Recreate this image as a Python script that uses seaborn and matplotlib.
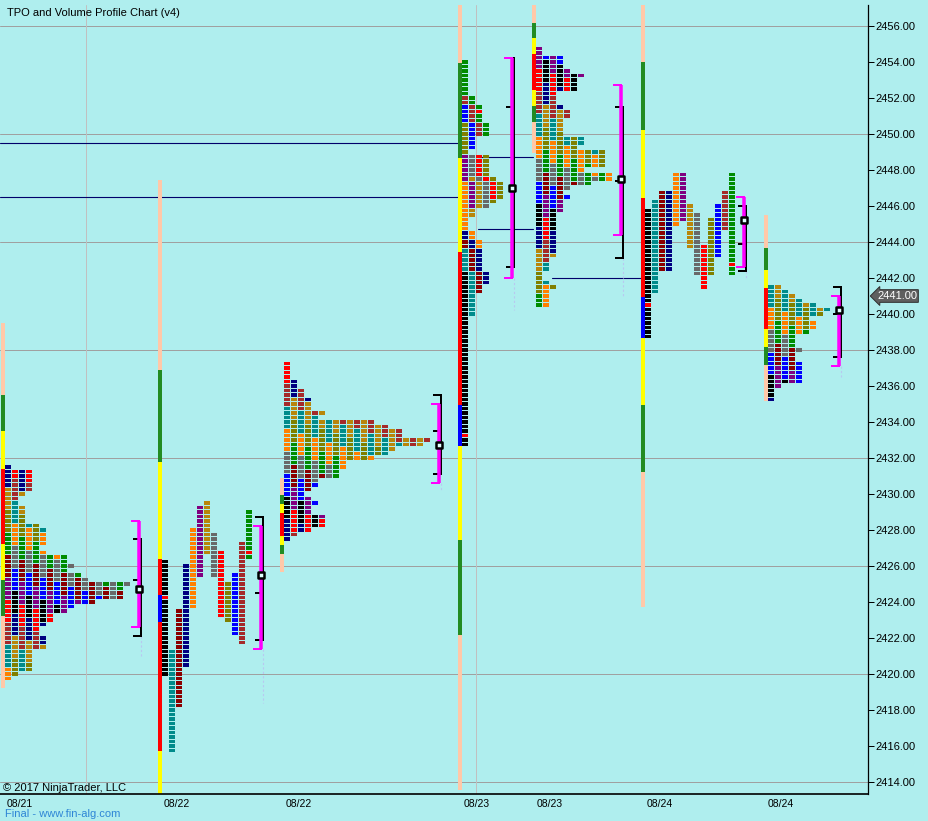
import matplotlib
matplotlib.use("Agg")
import matplotlib.pyplot as plt
import pandas as pd
import seaborn as sns

BG = "#AFEEEE"
PERIOD_COLORS = ["#000000", "#008B8B", "#8B0000", "#000080", "#FF8000", "#800080",
                 "#B8860B", "#696969", "#FF0000", "#808000", "#0000FF", "#A52A2A", "#008C00"]
BAR_COLORS = {"p": "#FFC8A8", "g": "#228B22", "y": "#FFFF00", "r": "#FF0000", "b": "#0000FF"}

# day sessions: 30 min period highs / lows
day22_high = [2426.25, 2421.25, 2423.5, 2426.0, 2428.0, 2429.25, 2429.5, 2427.75, 2426.75, 2425.0, 2425.5, 2427.25, 2429.0]
day22_low = [2420.0, 2415.75, 2418.25, 2420.5, 2423.75, 2425.5, 2426.75, 2425.5, 2423.25, 2423.0, 2422.25, 2421.75, 2426.5]
day23_high = [2442.25, 2443.5, 2444.0, 2444.5, 2447.25, 2448.75, 2447.5, 2448.75, 2448.75, 2450.5, 2451.5, 2452.0, 2454.0]
day23_low = [2432.75, 2440.0, 2441.25, 2441.75, 2443.75, 2446.0, 2445.5, 2446.0, 2446.5, 2446.25, 2449.25, 2450.0, 2450.0]
day24_high = [2445.75, 2446.25, 2446.75, 2446.75, 2447.75, 2447.75, 2446.0, 2445.5, 2443.75, 2445.25, 2446.0, 2446.75, 2447.75]
day24_low = [2438.75, 2441.25, 2442.5, 2442.5, 2445.0, 2445.25, 2443.75, 2442.25, 2441.5, 2442.25, 2443.25, 2444.75, 2442.25]
day_open = [2424.25, 2433.25, 2440.5]
day_close = [2426.75, 2451.25, 2442.75]

# overnight sessions: TPO count per price row, from the top price down
eth21_top = 2431.5
eth21_rows = [1, 4, 4, 4, 4, 4, 3, 2, 2, 3, 3, 3, 3, 5, 6, 6, 6, 6, 5, 6, 9, 9, 10, 9, 11, 12,
              18, 17, 17, 17, 13, 10, 9, 7, 7, 6, 5, 5, 6, 6, 6, 4, 4, 4, 4, 4, 2, 1]
eth22_top = 2437.25
eth22_rows = [1, 1, 1, 1, 2, 2, 3, 3, 4, 4, 4, 6, 5, 13, 15, 17, 17, 21, 20, 16, 15, 13, 9, 9,
              8, 8, 5, 5, 4, 3, 4, 5, 4, 4, 6, 6, 6, 4, 2, 1]
eth23_top = 2454.75
eth23_rows = [1, 1, 4, 4, 4, 5, 7, 6, 6, 6, 3, 3, 3, 4, 5, 5, 4, 4, 4, 4, 7, 7, 6, 10, 10, 10,
              10, 7, 11, 11, 8, 5, 4, 5, 4, 4, 4, 3, 3, 3, 3, 3, 3, 3, 3, 3, 3, 2, 2, 2, 1, 1,
              2, 3, 2, 2, 2, 2]
eth24_top = 2441.5
eth24_rows = [2, 3, 4, 5, 7, 9, 8, 6, 7, 7, 6, 4, 4, 4, 5, 4, 4, 5, 5, 5, 5, 5, 2, 1, 1, 1]

# per session (left to right)
session_x = [5, 162, 284, 462, 536, 645, 768]
bar_edges = [
    [2439.5, 2435.5, 2433.5, 2431.4, 2427.2, 2425.2, 2423.2, 2419.2],
    [2447.44, 2436.9, 2431.8, 2426.4, 2424.4, 2422.9, 2415.7, 2413.3],
    [2430.9, 2429.94, 2429.44, 2428.94, 2427.67, 2427.17, 2426.67, 2425.67],
    [2457.17, 2453.94, 2448.67, 2443.44, 2434.94, 2432.67, 2427.44, 2422.17, 2413.56],
    [2457.17, 2456.17, 2455.33, 2454.44, 2452.44, 2451.56, 2450.67, 2448.94],
    [2457.17, 2454.0, 2450.22, 2446.44, 2440.94, 2438.67, 2434.94, 2431.22, 2423.72],
    [2445.5, 2443.67, 2442.44, 2441.44, 2439.17, 2438.17, 2437.17, 2435.17],
]
bar_codes = ["pgyrygp", "pgyrbry", "pgyrygp", "pgyrbygp", "pgyrygp", "pgyrbygp", "pgyrygp"]
bracket_x = [137, 259, 437, 510, 619, 742, 837]
va_high = [2428.5, 2428.25, 2435.0, 2454.25, 2452.75, 2446.5, 2441.0]
va_low = [2422.6, 2421.4, 2430.6, 2442.0, 2444.4, 2442.6, 2437.1]
rng_high = [2427.5, 2428.75, 2435.5, 2454.25, 2451.5, 2446.0, 2441.5]
rng_mid = [2425.2, 2424.5, 2433.5, 2451.5, 2447.4, 2443.9, 2440.0]
rng_low = [2422.1, 2421.9, 2431.1, 2442.6, 2443.1, 2442.4, 2437.6]
tail_low = [2420.9, 2418.4, 2430.2, 2440.2, 2441.0, 2442.0, 2436.5]
poc = [2424.75, 2425.5, 2432.75, 2447.0, 2447.5, 2445.25, 2440.25]

level_price = [2449.5, 2446.5, 2448.75, 2444.75, 2442.0]
level_x0 = [0, 0, 478, 478, 552]
level_x1 = [458, 458, 533, 533, 642]

date_x = [20, 177, 299, 477, 550, 660, 781]
date_labels = ["08/21", "08/22", "08/22", "08/23", "08/23", "08/24", "08/24"]
grid_prices = [2414, 2420, 2426, 2432, 2438, 2444, 2450, 2456]
grid_x = [86, 476]
last_price = 2441.0


def blocks_from_periods(x0, highs, lows, split, open_px, close_px):
    out = []
    n = len(highs)
    lo_t = round(min(lows) * 4)
    hi_t = round(max(highs) * 4)
    for t in range(lo_t, hi_t + 1):
        covering = [p for p in range(n) if round(lows[p] * 4) <= t <= round(highs[p] * 4)]
        for rank, p in enumerate(covering):
            col = p if split else rank
            color = PERIOD_COLORS[p]
            if (p == 0 and t == round(open_px * 4)) or (p == n - 1 and t == round(close_px * 4)):
                color = "#FF0000"
            out.append((x0 + 3 + 7 * col, t / 4, color))
    return out


def blocks_from_rows(x0, top, rows, offset):
    out = []
    for r, w in enumerate(rows):
        for c in range(w):
            k = (offset + 5 * c + 3 * ((r + 2 * c) // 5)) % 13
            out.append((x0 + 3 + 7 * c, top - 0.25 * r, PERIOD_COLORS[k]))
    return out


def main() -> None:
    sns.set_theme(style="white")
    plt.rcParams["font.family"] = ["Liberation Sans", "DejaVu Sans"]

    fig = plt.figure(figsize=(9.29, 8.21), dpi=100, facecolor=BG)
    ax = fig.add_axes([0, 1 - 794 / 821, 868 / 929, 789 / 821])
    ax.set_facecolor(BG)
    ax.set_xlim(0, 868)
    ax.set_ylim(2414 - 12 / 18, 2456 + 21 / 18)

    for p in grid_prices:
        ax.axhline(p, color="#A0A0A0", lw=0.72, zorder=0.5)
    for x in grid_x:
        ax.axvline(x, color="#C0C0C0", lw=0.72, zorder=0.5)
    for p, x0, x1 in zip(level_price, level_x0, level_x1):
        ax.plot([x0, x1], [p, p], color="#00006A", lw=0.8, zorder=1)

    # colored range bars left of each profile
    for x0, edges, codes in zip(session_x, bar_edges, bar_codes):
        for top, bot, code in zip(edges[:-1], edges[1:], codes):
            ax.bar(x0 - 2, top - bot, bottom=bot, width=4, color=BAR_COLORS[code],
                   linewidth=0, zorder=2)

    blocks = []
    blocks += blocks_from_rows(session_x[0], eth21_top, eth21_rows, 3)
    blocks += blocks_from_periods(session_x[1], day22_high, day22_low, True, day_open[0], day_close[0])
    blocks += blocks_from_rows(session_x[2], eth22_top, eth22_rows, 8)
    blocks += blocks_from_periods(session_x[3], day23_high, day23_low, False, day_open[1], day_close[1])
    blocks += blocks_from_rows(session_x[4], eth23_top, eth23_rows, 5)
    blocks += blocks_from_periods(session_x[5], day24_high, day24_low, True, day_open[2], day_close[2])
    blocks += blocks_from_rows(session_x[6], eth24_top, eth24_rows, 1)
    df = pd.DataFrame(blocks, columns=["x", "price", "color"])

    rect = [(-3, -1.75), (3, -1.75), (3, 1.75), (-3, 1.75), (-3, -1.75)]
    sns.scatterplot(data=df, x="x", y="price", hue="color",
                    palette={c: c for c in df["color"].unique()},
                    marker=rect, s=(6 * 0.72) ** 2, linewidth=0, legend=False,
                    antialiased=False, ax=ax, zorder=3)

    # value area (magenta) and range (black) brackets
    for m, vh, vl, rh, rm, rl, tl in zip(bracket_x, va_high, va_low, rng_high, rng_mid,
                                         rng_low, tail_low):
        ax.plot([m + 4.5, m + 4.5], [min(rl, vl), tl], color="#B8C8F0", lw=0.8,
                dashes=(2, 2), zorder=3.5)
        ax.plot([m + 4.5, m + 4.5], [rl, rh], color="black", lw=1.44,
                solid_capstyle="butt", zorder=4)
        for y in (rh, rm, rl):
            ax.plot([m - 4, m + 5.5], [y, y], color="black", lw=1.44,
                    solid_capstyle="butt", zorder=4)
        ax.plot([m + 1.75, m + 1.75], [vl, vh], color="#FF00FF", lw=2.52,
                solid_capstyle="butt", zorder=5)
        for y in (vh, vl):
            ax.plot([m - 6, m + 3.5], [y, y], color="#FF00FF", lw=1.44,
                    solid_capstyle="butt", zorder=5)
    sns.scatterplot(x=[m + 2 for m in bracket_x], y=poc, marker="s", s=(5.5 * 0.72) ** 2,
                    color="#E0FFFF", edgecolor="black", linewidth=1.8, legend=False,
                    ax=ax, zorder=6)

    ax.set_xlabel("")
    ax.set_ylabel("")
    for side in ("left", "top"):
        ax.spines[side].set_visible(False)
    ax.spines["right"].set_color("black")
    ax.spines["right"].set_linewidth(0.9)
    ax.spines["bottom"].set_color("black")
    ax.spines["bottom"].set_linewidth(1.2)

    ax.yaxis.tick_right()
    yt = list(range(2414, 2457, 2))
    ax.set_yticks(yt)
    ax.set_yticklabels([f"{v:.2f}" for v in yt])
    ax.tick_params(axis="y", direction="out", length=4.3, width=0.72, pad=1.4,
                   labelsize=8, colors="black", right=True, left=False)
    ax.set_xticks(date_x)
    ax.set_xticklabels(date_labels)
    ax.tick_params(axis="x", length=0, pad=3.5, labelsize=7.5, colors="black")

    ax.text(877, last_price, f"{last_price:.2f}", color="white", fontsize=8,
            va="center", ha="left", clip_on=False, zorder=7,
            bbox=dict(boxstyle="larrow,pad=0.12", fc="#5F5F5F", ec="#303030", lw=0.7))

    fig.text(7 / 929, 1 - 12.5 / 821, "TPO and Volume Profile Chart (v4)", fontsize=8,
             va="center", ha="left", color="black")
    fig.text(3 / 929, 1 - 788 / 821, "\u00a9 2017 NinjaTrader, LLC", fontsize=8,
             va="center", ha="left", color="black")
    fig.text(5 / 929, 1 - 814 / 821, "Final - www.fin-alg.com", fontsize=8,
             va="center", ha="left", color="#2E86D6")

    fig.savefig("out.png", dpi=100, facecolor=BG)
    plt.close(fig)


if __name__ == "__main__":
    main()
